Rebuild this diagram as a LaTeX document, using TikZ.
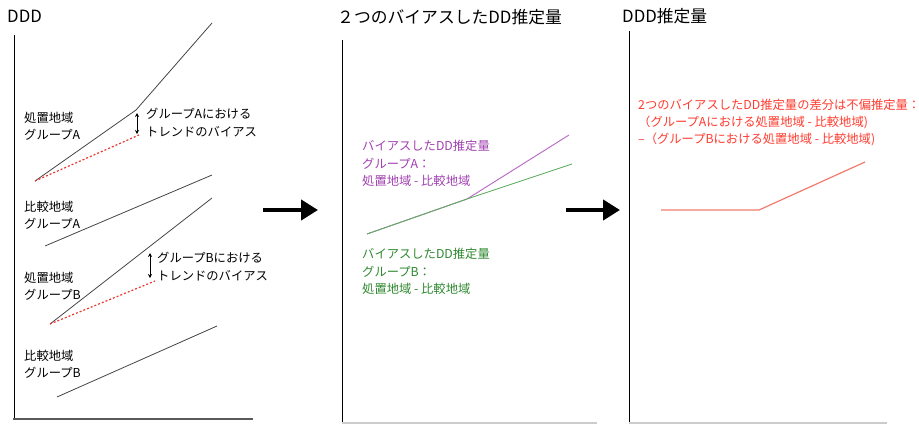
\documentclass[tikz,border=0pt]{standalone}
\usepackage{fontspec}
\setmainfont{Noto Sans CJK JP}
\usetikzlibrary{arrows.meta}
\definecolor{linegray}{HTML}{444444}
\definecolor{dotred}{HTML}{E8392E}
\definecolor{purp}{HTML}{A040B0}
\definecolor{purpline}{HTML}{B766C4}
\definecolor{grn}{HTML}{2E882E}
\definecolor{grnline}{HTML}{5FAE5F}
\definecolor{rtxt}{HTML}{FF3B2F}
\definecolor{rline}{HTML}{F27A6C}
\tikzset{
  lbl/.style={anchor=west, inner sep=0pt, align=left, font=\fontsize{12.3}{17.2}\selectfont},
  ttl/.style={anchor=west, inner sep=0pt, font=\fontsize{16.8}{20}\selectfont},
  trend/.style={draw=linegray, line width=0.8pt},
  bias/.style={draw=dotred, line width=1.2pt, dash pattern=on 2pt off 2pt},
  yaxis/.style={draw=black, line width=1pt},
  xaxis/.style={draw=#1, line width=1.6pt},
  bigarrow/.style={draw=black, line width=4.5pt, -{Triangle[length=17pt,width=20pt]}},
  biasarrow/.style={draw=black, line width=0.7pt, {Stealth[length=4pt,width=4pt]}-{Stealth[length=4pt,width=4pt]}},
}
\begin{document}
\begin{tikzpicture}[x=1pt,y=-1pt]
\useasboundingbox (0,0) rectangle (919,424);
% ---------- Panel 1 ----------
\node[ttl] (t1) at (7,16) {DDD};
\coordinate (y1a) at (14,35); \coordinate (y1b) at (14,419);
\coordinate (x1a) at (13,419); \coordinate (x1b) at (253,419);
\draw[yaxis] (y1a) -- (y1b);
\draw[xaxis={gray!70!black}] (x1a) -- (x1b);
% treatment A
\coordinate (tA0) at (35,181); \coordinate (tA1) at (136,110); \coordinate (tA2) at (212,23);
\coordinate (bA1) at (139,135);
\draw[trend] (tA0) -- (tA1) -- (tA2);
\draw[bias] (tA0) -- (bA1);
\coordinate (aA0) at (137,113); \coordinate (aA1) at (137,134);
\draw[biasarrow] (aA0) -- (aA1);
\node[lbl] (lA) at (146,122.5) {グループAにおける\\トレンドのバイアス};
\node[lbl] (ltA) at (24,126.5) {処置地域\\グループA};
% comparison A
\coordinate (cA0) at (45,246); \coordinate (cA1) at (212,175);
\draw[trend] (cA0) -- (cA1);
\node[lbl] (lcA) at (24,215) {比較地域\\グループA};
% treatment B
\coordinate (tB0) at (50,324); \coordinate (tB2) at (212,198);
\coordinate (bB1) at (155,281);
\draw[trend] (tB0) -- (tB2);
\draw[bias] (tB0) -- (bB1);
\coordinate (aB0) at (150,253); \coordinate (aB1) at (150,278);
\draw[biasarrow] (aB0) -- (aB1);
\node[lbl] (lB) at (157,266.5) {グループBにおける\\トレンドのバイアス};
\node[lbl] (ltB) at (24,286.5) {処置地域\\グループB};
% comparison B
\coordinate (cB0) at (57,397); \coordinate (cB1) at (217,326);
\draw[trend] (cB0) -- (cB1);
\node[lbl] (lcB) at (24,364.5) {比較地域\\グループB};
% arrow 1
\coordinate (ar1a) at (263,210); \coordinate (ar1b) at (318,210);
\draw[bigarrow] (ar1a) -- (ar1b);
% ---------- Panel 2 ----------
\node[ttl] (t2) at (337,17) {２つのバイアスしたDD推定量};
\coordinate (y2a) at (342,40); \coordinate (y2b) at (342,424);
\coordinate (x2a) at (342,423); \coordinate (x2b) at (597,423);
\draw[yaxis] (y2a) -- (y2b);
\draw[xaxis={black!20}] (x2a) -- (x2b);
\coordinate (p0) at (367,234); \coordinate (p1) at (467,199);
\coordinate (pA) at (569,135); \coordinate (pB) at (572,164);
\draw[draw=purpline, line width=0.9pt] (p0) -- (p1) -- (pA);
\draw[draw=grnline, line width=0.9pt] (p0) -- (p1) -- (pB);
\node[lbl, text=purp] (lpA) at (362,163.5) {バイアスしたDD推定量\\グループA：\\処置地域 - 比較地域};
\node[lbl, text=grn] (lpB) at (362,271.5) {バイアスしたDD推定量\\グループB：\\処置地域 - 比較地域};
% arrow 2
\coordinate (ar2a) at (566,210); \coordinate (ar2b) at (620,210);
\draw[bigarrow] (ar2a) -- (ar2b);
% ---------- Panel 3 ----------
\node[ttl] (t3) at (622,16) {DDD推定量};
\coordinate (y3a) at (629,31); \coordinate (y3b) at (629,424);
\coordinate (x3a) at (629,423); \coordinate (x3b) at (887,423);
\draw[yaxis] (y3a) -- (y3b);
\draw[xaxis={black!20}] (x3a) -- (x3b);
\node[lbl, text=rtxt] (ld) at (638,122.5) {2つのバイアスしたDD推定量の差分は不偏推定量：\\（グループAにおける処置地域 - 比較地域)\\–（グループBにおける処置地域 - 比較地域)};
\coordinate (d0) at (661,210); \coordinate (d1) at (759,210); \coordinate (d2) at (865,162);
\draw[draw=rline, line width=1.2pt] (d0) -- (d1) -- (d2);
\end{tikzpicture}
\end{document}
